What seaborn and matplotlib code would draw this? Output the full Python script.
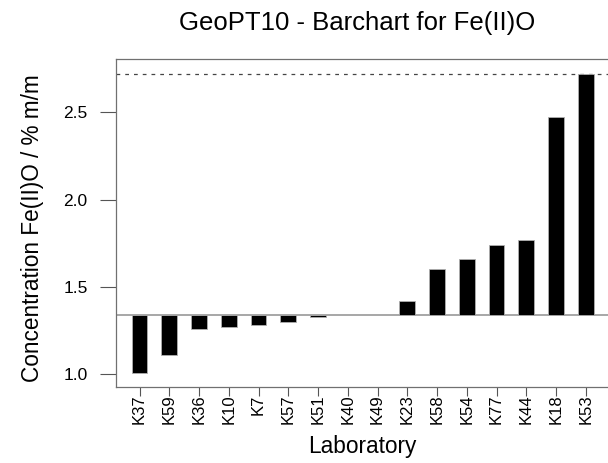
import numpy as np
import pandas as pd
import matplotlib
matplotlib.use("Agg")
import matplotlib.pyplot as plt
import seaborn as sns

# ---- data ----
labs = ["K37", "K59", "K36", "K10", "K7", "K57", "K51", "K40", "K49",
        "K23", "K58", "K54", "K77", "K44", "K18", "K53"]
values = [1.01, 1.11, 1.26, 1.27, 1.28, 1.30, 1.33, np.nan, np.nan,
          1.42, 1.60, 1.66, 1.74, 1.77, 2.47, 2.72]
assigned = 1.34
upper = 2.72
yticks = [1.0, 1.5, 2.0, 2.5]

sns.set_style("white")
plt.rcParams["font.family"] = ["Liberation Sans", "DejaVu Sans"]
plt.rcParams["text.color"] = "black"
plt.rcParams["xtick.labelcolor"] = "black"
plt.rcParams["ytick.labelcolor"] = "black"

df = pd.DataFrame({"lab": labs, "dev": np.array(values) - assigned})

W, H = 608, 463
fig = plt.figure(figsize=(W / 100, H / 100), dpi=100)
left_px, right_px, top_px, bot_px = 116, 620, 59, 386.7
ax = fig.add_axes([left_px / W, (H - bot_px) / H,
                   (right_px - left_px) / W, (bot_px - top_px) / H])

sns.barplot(data=df, x="lab", y="dev", order=labs, bottom=assigned,
            color="black", width=0.53, edgecolor="#b0b0b0", linewidth=0.6,
            saturation=1, errorbar=None, ax=ax)

ax.axhline(assigned, color="#a0a0a0", lw=1.3, zorder=0.5)
ax.axhline(upper, color="#444444", lw=0.9, ls=(0, (3, 4)), zorder=0.5)

ax.set_ylim(0.929, 2.804)
ax.set_xlim(-0.79, 16.15)
ax.set_yticks(yticks)
ax.set_yticklabels([f"{t:.1f}" for t in yticks])
ax.tick_params(axis="y", length=11.5, width=0.8, color="#555555",
               labelsize=12.5, pad=9, left=True, labelcolor="black")
ax.tick_params(axis="x", length=6.5, width=0.8, color="#555555",
               labelsize=12, pad=-1, bottom=True, labelrotation=90,
               labelcolor="black")

for s in ["left", "bottom", "top"]:
    ax.spines[s].set_color("#707070")
    ax.spines[s].set_linewidth(0.9)
ax.spines["right"].set_visible(False)

ax.set_xlabel("")
ax.set_ylabel("")
fig.text(362 / W, 1 - 447 / H, "Laboratory", ha="center", va="center",
         fontsize=16.3, color="black")
fig.text(33 / W, 1 - 228 / H, "Concentration Fe(II)O / % m/m", ha="center",
         va="center", rotation=90, fontsize=16.3, color="black")
fig.text(357 / W, 1 - 23 / H, "GeoPT10 - Barchart for Fe(II)O", ha="center",
         va="center", fontsize=18.5, color="black")

fig.savefig("out.png", dpi=100)
